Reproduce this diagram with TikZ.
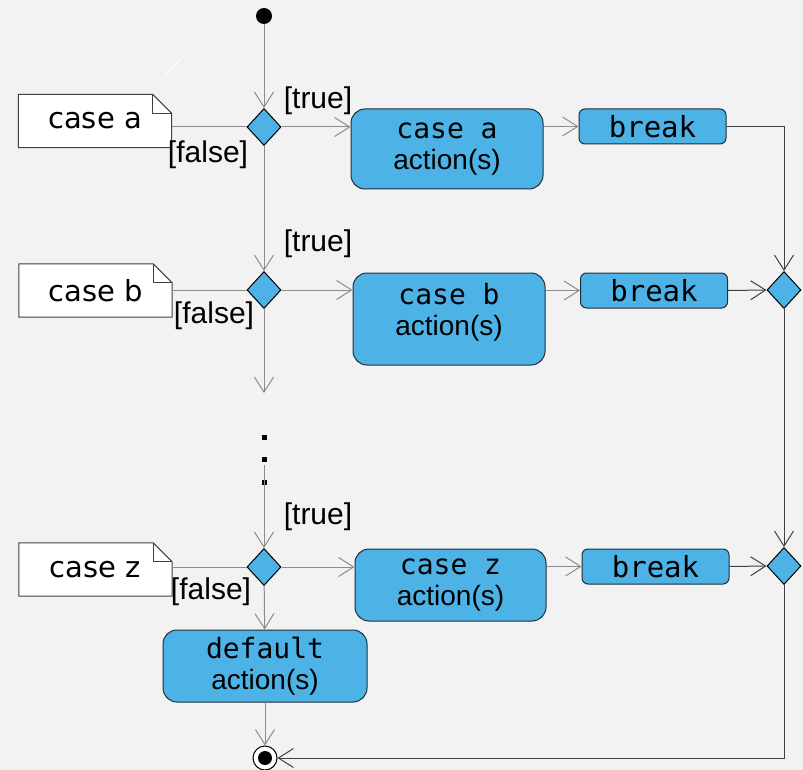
\documentclass[tikz,border=0pt]{standalone}
\usepackage{fontspec}
\setmainfont{Liberation Sans}
\newfontfamily\codefont{DejaVu Sans Mono}
\newfontfamily\notefont{DejaVu Sans}
\usetikzlibrary{shapes.geometric,arrows.meta}
\definecolor{bgcol}{HTML}{F2F2F2}
\definecolor{actblue}{HTML}{4DB2E6}
\definecolor{actline}{HTML}{1E2F3C}
\definecolor{flowgray}{HTML}{8C8C8C}
\definecolor{mergegray}{HTML}{404040}
\pgfdeclarelayer{bg}
\pgfdeclarelayer{paper}
\pgfsetlayers{bg,paper,main}
\tikzset{
  action/.style={rectangle, rounded corners=14pt, draw=actline, fill=actblue, line width=1pt, align=center, inner sep=0pt, font=\fontsize{28}{31}\selectfont},
  breakbox/.style={rectangle, rounded corners=6pt, draw=actline, fill=actblue, line width=1pt, inner sep=0pt, minimum width=147pt, minimum height=35pt, font=\codefont\fontsize{29}{29}\selectfont},
  decision/.style={diamond, draw=black, fill=actblue, line width=1pt, inner sep=0pt, minimum width=34pt, minimum height=37pt},
  notebox/.style={inner sep=0pt, minimum width=153pt, minimum height=53pt, font=\notefont\fontsize{29}{29}\selectfont},
  guard/.style={inner sep=0pt, font=\fontsize{30}{30}\selectfont},
  flow/.style={draw=flowgray, line width=1pt, -{Straight Barb[length=15pt,width=19pt]}},
  merge/.style={draw=mergegray, line width=1pt, -{Straight Barb[length=15pt,width=19pt]}},
  noteline/.style={draw=flowgray, line width=1pt},
}
\begin{document}
\begin{tikzpicture}[x=1pt,y=-1pt]
\useasboundingbox (0,0) rectangle (803,770);
\begin{pgfonlayer}{bg}
\fill[bgcol] (0,0) rectangle (803,770);
\end{pgfonlayer}
\draw[white, line width=0.8pt] (163,78) -- (181,59);
% start and end
\node [circle, fill=black, minimum size=16pt, inner sep=0pt] (start) at (264,16) {};
\node [circle, draw=black, fill=white, line width=1pt, minimum size=24pt, inner sep=0pt,
  path picture={\fill[black] (path picture bounding box.center) circle (7pt);}] (end) at (265,758) {};
% decisions
\node [decision] (decA) at (264,127) {};
\node [decision] (decB) at (264,290) {};
\node [decision] (decZ) at (264,567) {};
\node [decision] (mergeB) at (784,290) {};
\node [decision] (mergeZ) at (784,566) {};
% notes
\node [notebox] (noteA) at (95,121) {case a\hspace{11pt}};
\node [notebox] (noteB) at (95.5,290.5) {case b\hspace{11pt}};
\node [notebox] (noteZ) at (95.5,569.5) {case z\hspace{11pt}};
\begin{pgfonlayer}{paper}
\foreach \n in {noteA,noteB,noteZ} {
  \filldraw[fill=white, draw=black!75, line width=1pt] (\n.south west) -- (\n.north west) -- ([xshift=-19pt]\n.north east)
    -- ([yshift=-19pt]\n.north east) -- (\n.south east) -- cycle;
  \draw[black!75, line width=1pt] ([xshift=-19pt]\n.north east) -- ([xshift=-19pt,yshift=-19pt]\n.north east)
    -- ([yshift=-19pt]\n.north east);
}
\end{pgfonlayer}
% actions
\node [action, minimum width=192pt, minimum height=80pt] (actA) at (447,149) {{\codefont case a}\\action(s)};
\node [action, minimum width=192pt, minimum height=92pt] (actB) at (449,319) {{\codefont case b}\\action(s)\\[-12pt]};
\node [action, minimum width=191pt, minimum height=72pt] (actZ) at (450.5,585) {{\codefont case z}\\action(s)};
\node [action, minimum width=204pt, minimum height=72pt] (actD) at (265,666) {{\codefont default}\\action(s)};
\node [breakbox] (breakA) at (652.5,126.5) {break};
\node [breakbox] (breakB) at (654,290.5) {break};
\node [breakbox] (breakZ) at (655.5,566.5) {break};
% guards
\node [guard] (trueA) at (318,101) {[true]};
\node [guard] (trueB) at (318,244) {[true]};
\node [guard] (trueZ) at (318,517) {[true]};
\node [guard] (falseA) at (208,155) {[false]};
\node [guard] (falseB) at (214,316) {[false]};
\node [guard] (falseZ) at (211,592) {[false]};
% note lines
\draw [noteline] (noteA.east |- decA) -- (decA.west);
\draw [noteline] (noteB.east |- decB) -- (decB.west);
\draw [noteline] (noteZ.east |- decZ) -- (decZ.west);
% flows
\coordinate (contB) at (264,393);
\coordinate (contZ) at (264,465);
\foreach \y in {437,459,482}
  \fill (261.5,{\y-2.5}) rectangle ++(5,5);
\draw [flow] (start) -- (decA);
\draw [flow] (decA) -- (decB);
\draw [flow] (decB) -- (contB);
\draw [flow] (contZ) -- (decZ);
\draw [flow] (decZ) -- (actD);
\draw [flow] (actD) -- (end);
\draw [flow] (decA.east) -- (decA.east -| actA.west);
\draw [flow] (decB.east) -- (decB.east -| actB.west);
\draw [flow] (decZ.east) -- (decZ.east -| actZ.west);
\draw [flow] (breakA.west -| actA.east) -- (breakA.west);
\draw [flow] (breakB.west -| actB.east) -- (breakB.west);
\draw [flow] (breakZ.west -| actZ.east) -- (breakZ.west);
\draw [merge] (breakA.east) -| (mergeB.north);
\draw [merge] (breakB.east) -- (mergeB.west);
\draw [merge] (breakZ.east) -- (mergeZ.west);
\draw [merge] (mergeB) -- (mergeZ);
\draw [merge] (mergeZ.south) |- (end.east);
\end{tikzpicture}
\end{document}
